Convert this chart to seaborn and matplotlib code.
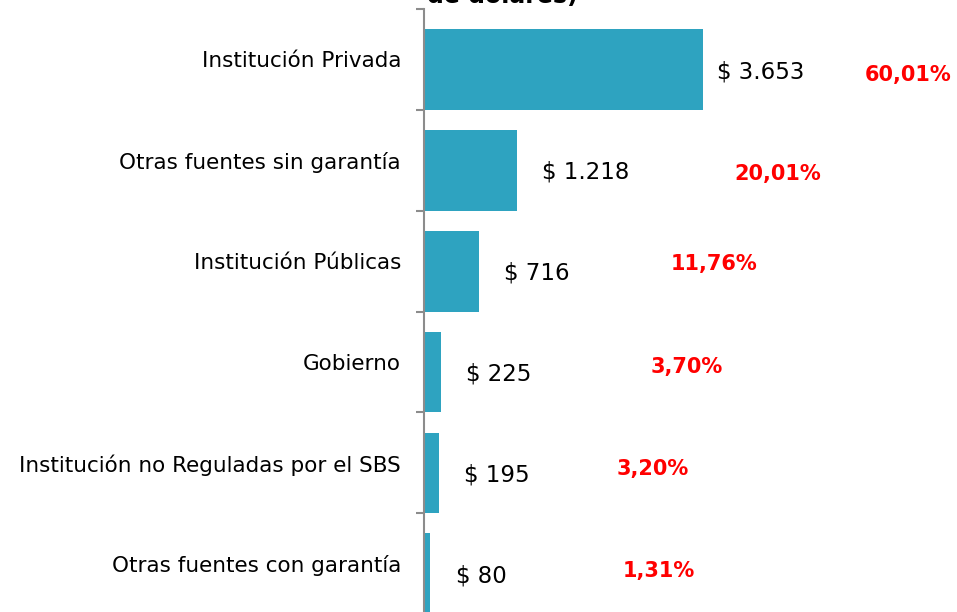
import matplotlib
matplotlib.use("Agg")
import matplotlib.pyplot as plt
import matplotlib.transforms as mtransforms
import seaborn as sns
import numpy as np
import pandas as pd

# Data (millones de dólares)
categorias = [
    "Institución Privada",
    "Otras fuentes sin garantía",
    "Institución Públicas",
    "Gobierno",
    "Institución no Reguladas por el SBS",
    "Otras fuentes con garantía",
]
montos = [3653, 1218, 716, 225, 195, 80]
etiquetas_monto = ["$ 3.653", "$ 1.218", "$ 716", "$ 225", "$ 195", "$ 80"]
porcentajes = ["60,01%", "20,01%", "11,76%", "3,70%", "3,20%", "1,31%"]

# Label placement (pixels)
gap_monto = [14, 25, 25, 25, 25, 26]
x_pct = [908, 778, 714, 687, 653, 659]
dy_pct = [5, 4, -7, -5, -4, -3]

df = pd.DataFrame({"categoria": categorias, "monto": montos})

sns.set_style("white")
plt.rcParams["font.family"] = ["DejaVu Sans"]

W, H = 957, 612
fig = plt.figure(figsize=(W / 100, H / 100), dpi=100)
ax = fig.add_axes([424 / W, -2 / H, (W - 424) / W, 605 / H])

bar_color = "#2EA3C0"
sns.barplot(data=df, y="categoria", x="monto", orient="h", width=0.8,
            color=bar_color, saturation=1, linewidth=0, ax=ax)

px_per_unit = (703 - 424) / 3653
xmax = (W - 424) / px_per_unit
ax.set_xlim(0, xmax)
ax.set_ylim(5.4, -0.6)

# spines / ticks
for s in ["top", "right", "bottom"]:
    ax.spines[s].set_visible(False)
ax.spines["left"].set_color("#8C8C8C")
ax.spines["left"].set_linewidth(1.5)
ax.set_xticks([])
ax.set_xlabel("")
ax.set_ylabel("")

n = len(categorias)
ax.set_yticks(np.arange(n) - 0.1, labels=categorias)
ax.set_yticks(np.arange(n + 1) - 0.6, minor=True)
ax.tick_params(axis="y", which="major", left=False, pad=13, labelsize=15.5, labelcolor="black")
ax.tick_params(axis="y", which="minor", left=True, length=6, width=1.5,
               color="#8C8C8C", direction="out")

# value labels
for i, (v, lab) in enumerate(zip(montos, etiquetas_monto)):
    ax.annotate(lab, xy=(v, i), xytext=(gap_monto[i] * 0.72, -2 * 0.72),
                textcoords="offset points", ha="left", va="center",
                fontsize=16.5, color="black")

# percentage labels
trans = mtransforms.blended_transform_factory(fig.transFigure, ax.transData)
for i, p in enumerate(porcentajes):
    ax.annotate(p, xy=(x_pct[i] / W, i), xycoords=trans,
                xytext=(0, -dy_pct[i] * 0.72), textcoords="offset points",
                ha="center", va="center", fontsize=15, fontweight="bold",
                color="#FF0000", annotation_clip=False)

# title (cut off at top in the original)
fig.text(502 / W, 1 - 3 / H, "de dólares)", ha="center", va="baseline",
         fontsize=17, fontweight="bold", color="black")

fig.savefig("out.png", dpi=100)
